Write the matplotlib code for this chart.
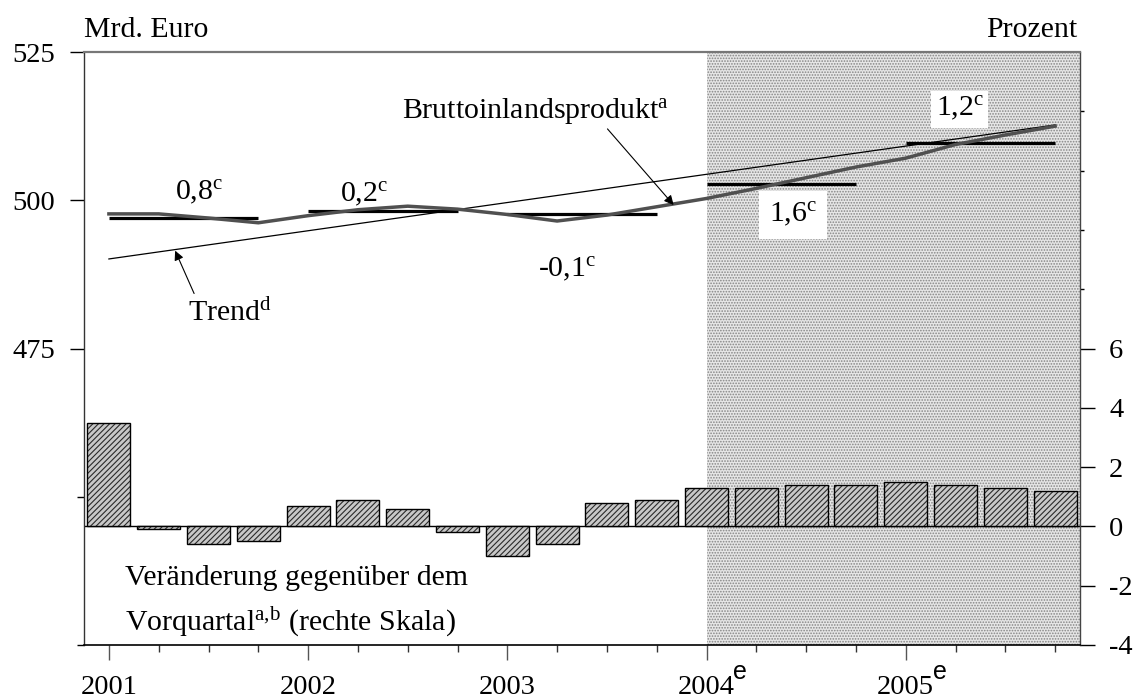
import matplotlib
matplotlib.use('Agg')
import matplotlib.pyplot as plt
import numpy as np

plt.rcParams['font.family'] = ['Liberation Serif', 'DejaVu Serif']
plt.rcParams['mathtext.fontset'] = 'custom'
plt.rcParams['mathtext.rm'] = 'Liberation Serif'
plt.rcParams['mathtext.it'] = 'Liberation Serif:italic'
plt.rcParams['hatch.linewidth'] = 0.8

# ---------------- data ----------------
quarters = np.arange(20)                       # 2001Q1 ... 2005Q4
year_labels = ['2001', '2002', '2003', '2004', '2005']
year_sup = ['', '', '', 'e', 'e']
bip = [497.7, 497.7, 497.0, 496.2, 497.4, 498.4, 499.0, 498.5,
       497.6, 496.5, 497.5, 498.9, 500.3, 502.0, 503.8, 505.6,
       507.1, 509.4, 511.0, 512.5]
annual_avg = [497.0, 498.2, 497.6, 502.8, 509.6]
trend_q = [0, 19]
trend = [490.1, 512.7]
growth = [3.5, -0.1, -0.6, -0.5, 0.7, 0.9, 0.6, -0.2, -1.0, -0.6,
          0.8, 0.9, 1.3, 1.3, 1.4, 1.4, 1.5, 1.4, 1.3, 1.2]
annual_growth = ['0,8', '0,2', '-0,1', '1,6', '1,2']
forecast_start = 12
left_ticks = [475, 500, 525]
right_ticks = [-4, -2, 0, 2, 4, 6]

# label positions (quarter index, left-scale value)
growth_label_pos = [(1.33, 500.0), (4.64, 499.7), (8.62, 487.0), (13.25, 496.3), (16.6, 514.1)]
growth_label_pad = [None, None, None, 7, 3]

W, H = 1136, 699
fig = plt.figure(figsize=(W / 100, H / 100), dpi=100)
ax = fig.add_axes([84 / W, 54 / H, 996 / W, 593 / H])
ax.set_xlim(-0.5, 19.5)
ax.set_ylim(425, 525)
ax2 = ax.twinx()
ax2.set_ylim(-4, 16)
ax.set_zorder(2)
ax2.set_zorder(1)
ax.patch.set_visible(False)

# forecast shading
ax2.axvspan(forecast_start, 19.5, facecolor='#e6e6e6', edgecolor='#858585',
            hatch='......', linewidth=0, zorder=0)

# bars (right scale)
ax2.bar(quarters, growth, width=0.86, facecolor='#c8c8c8', edgecolor='#2a2a2a',
        hatch='//////', linewidth=0, zorder=2)
ax2.bar(quarters, growth, width=0.86, fill=False, edgecolor='black',
        linewidth=1.0, zorder=3)
ax2.axhline(0, color='black', lw=1.0, zorder=1.5)

# lines (left scale)
ax.plot(trend_q, trend, color='black', lw=0.9, zorder=3)
year_start = quarters[::4]
ax.hlines(annual_avg, year_start, year_start + 3, color='black', lw=2.3, zorder=4)
ax.plot(quarters, bip, color='#505050', lw=2.5, zorder=5, solid_joinstyle='miter')

# growth labels
for (x, y), lab, pad in zip(growth_label_pos, annual_growth, growth_label_pad):
    kw = {}
    if pad is not None:
        kw['bbox'] = dict(facecolor='white', edgecolor='none', pad=pad)
    ax.text(x, y, lab + r'$^{\mathrm{c}}$', fontsize=21.5, ha='left', va='baseline',
            zorder=6, **kw)

# annotations
ax.annotate('Bruttoinlandsprodukt$^{\\mathrm{a}}$', xy=(11.34, 499.2), xytext=(5.89, 513.85),
            fontsize=21.5, ha='left', va='baseline', zorder=6,
            arrowprops=dict(arrowstyle='-|>', color='black', lw=0.8,
                            mutation_scale=14, shrinkA=0, shrinkB=0,
                            relpos=(0.76, 0.0)))
ax.annotate('Trend$^{\\mathrm{d}}$', xy=(1.33, 491.5), xytext=(1.59, 479.7),
            fontsize=21.5, ha='left', va='baseline', zorder=6,
            arrowprops=dict(arrowstyle='-|>', color='black', lw=0.8,
                            mutation_scale=14, shrinkA=2, shrinkB=0,
                            relpos=(0.1, 1.0)))
ax.text(0.32, 435.1, 'Veränderung gegenüber dem', fontsize=21.5, ha='left', va='baseline')
ax.text(0.32, 427.5, 'Vorquartal$^{\\mathrm{a,\\!b}}$ (rechte Skala)', fontsize=21.5,
        ha='left', va='baseline')

# axis titles
ax.text(0.0, 1.026, 'Mrd. Euro', transform=ax.transAxes, fontsize=21.5,
        ha='left', va='baseline')
ax.text(0.997, 1.026, 'Prozent', transform=ax.transAxes, fontsize=21.5,
        ha='right', va='baseline')

# ticks: left
ax.set_yticks(left_ticks)
ax.set_yticklabels([str(t) for t in left_ticks], fontsize=20.5)
ax.set_yticks([425, 450], minor=True)
ax.tick_params(axis='y', which='major', direction='out', length=10, width=1, pad=11)
ax.tick_params(axis='y', which='minor', direction='out', length=5, width=1)

# ticks: bottom
ax.set_xticks(year_start)
ax.set_xticklabels(year_labels, fontsize=20.5)
ax.set_xticks([q for q in quarters if q % 4 != 0], minor=True)
ax.tick_params(axis='x', which='major', direction='out', length=11, width=1,
               color='#555555', pad=24)
ax.tick_params(axis='x', which='minor', direction='out', length=5, width=1,
               color='#333333')
for lab in ax.get_xticklabels():
    lab.set_va('baseline')
for q, s in zip(year_start, year_sup):
    if s:
        ax.annotate(s, xy=(q, 0), xycoords=ax.get_xaxis_transform(),
                    xytext=(27, -34), textcoords='offset pixels',
                    fontsize=18, family='Liberation Sans', ha='left', va='baseline',
                    annotation_clip=False)

# ticks: right
ax2.set_yticks(right_ticks)
ax2.set_yticklabels([str(t) for t in right_ticks], fontsize=20.5)
ax2.set_yticks([8, 10, 12, 14], minor=True)
ax2.tick_params(axis='y', which='major', direction='out', length=11, width=1, pad=10)
ax2.tick_params(axis='y', which='minor', direction='out', length=3, width=1)

# spines
for a in (ax, ax2):
    for s in a.spines.values():
        s.set_visible(False)
ax.spines['left'].set_visible(True)
ax.spines['left'].set_color('#333333')
ax.spines['left'].set_linewidth(1.0)
ax.spines['bottom'].set_visible(True)
ax.spines['bottom'].set_linewidth(1.2)
ax.spines['top'].set_visible(True)
ax.spines['top'].set_color('#777777')
ax.spines['top'].set_linewidth(1.6)
ax2.spines['right'].set_visible(True)
ax2.spines['right'].set_color('#444444')
ax2.spines['right'].set_linewidth(1.0)

fig.savefig('out.png', dpi=100)
